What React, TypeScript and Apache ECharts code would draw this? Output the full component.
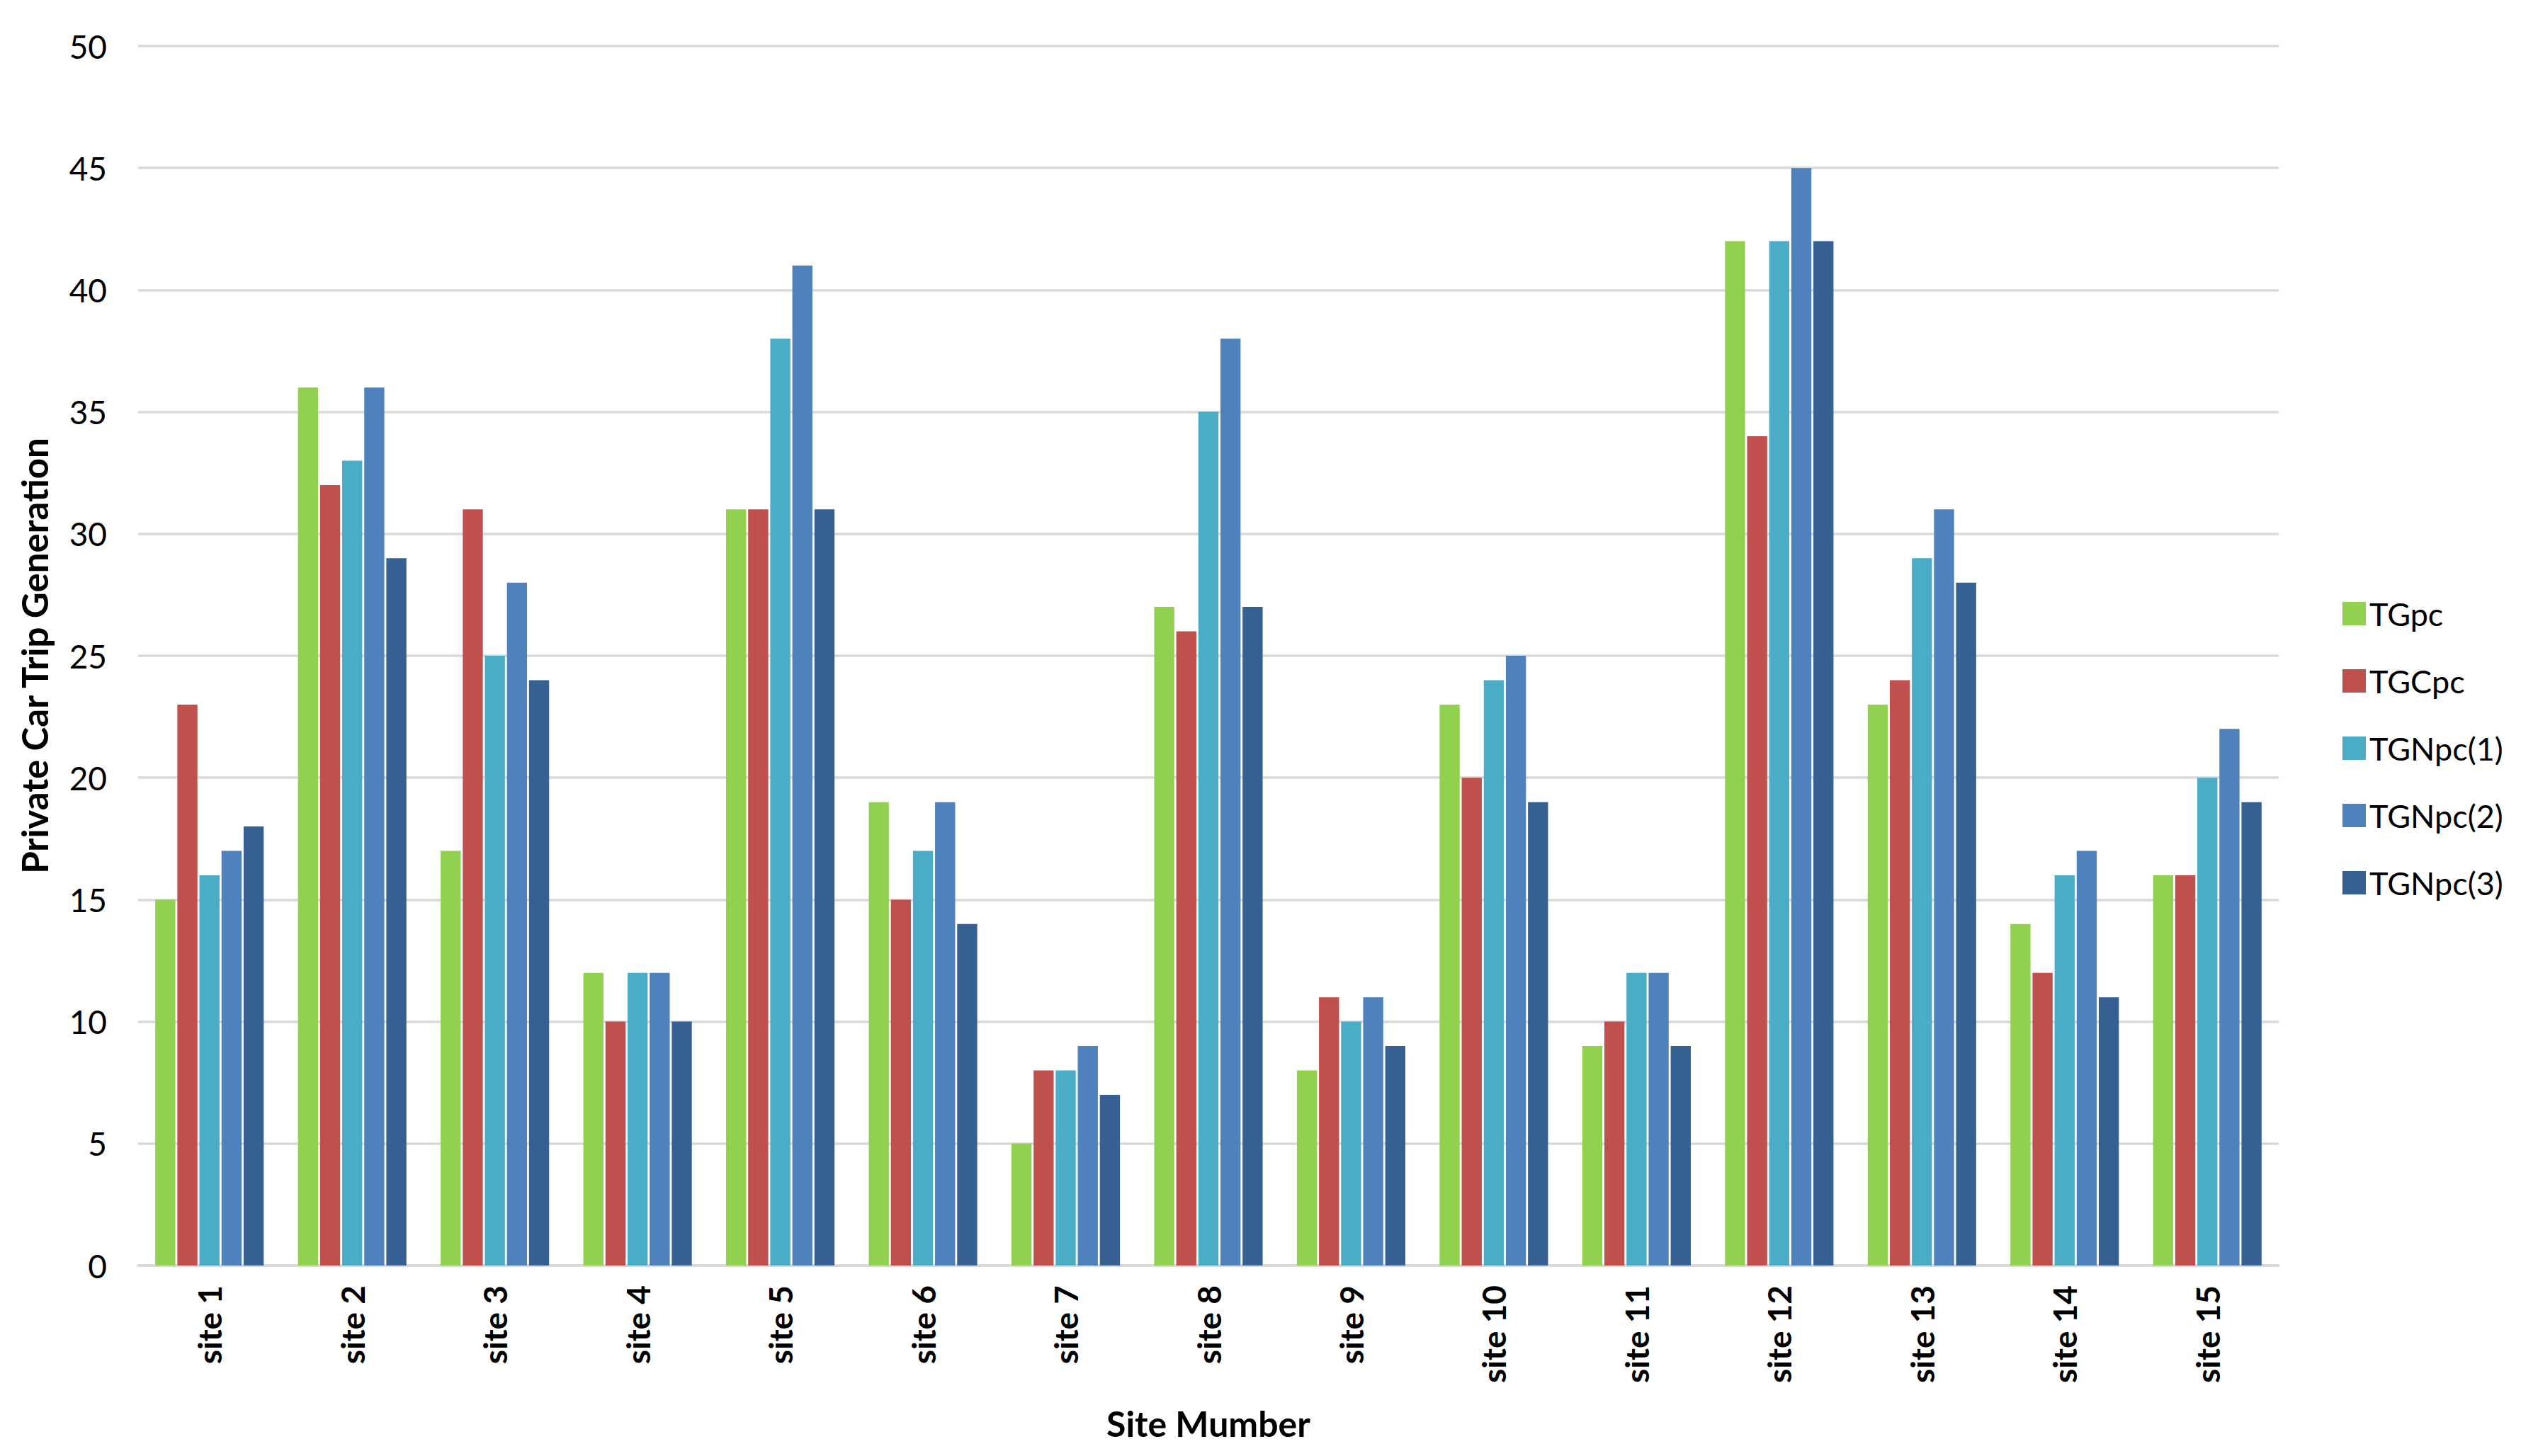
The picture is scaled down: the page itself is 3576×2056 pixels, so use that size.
import React, { useEffect, useRef } from "react";
import * as echarts from "echarts";

const categories = [
  "site 1", "site 2", "site 3", "site 4", "site 5", "site 6", "site 7", "site 8",
  "site 9", "site 10", "site 11", "site 12", "site 13", "site 14", "site 15",
];
const seriesNames = ["TGpc", "TGCpc", "TGNpc(1)", "TGNpc(2)", "TGNpc(3)"];
const tgpc = [15, 36, 17, 12, 31, 19, 5, 27, 8, 23, 9, 42, 23, 14, 16];
const tgcpc = [23, 32, 31, 10, 31, 15, 8, 26, 11, 20, 10, 34, 24, 12, 16];
const tgnpc1 = [16, 33, 25, 12, 38, 17, 8, 35, 10, 24, 12, 42, 29, 16, 20];
const tgnpc2 = [17, 36, 28, 12, 41, 19, 9, 38, 11, 25, 12, 45, 31, 17, 22];
const tgnpc3 = [18, 29, 24, 10, 31, 14, 7, 27, 9, 19, 9, 42, 28, 11, 19];
const colors = ["#92D050", "#C0504D", "#4BACC6", "#4F81BD", "#376092"];

const FONT = "Lato, 'Open Sans', 'Liberation Sans', sans-serif";

export default function App() {
  const ref = useRef<HTMLDivElement>(null);
  useEffect(() => {
    if (!ref.current) return;
    const chart = echarts.init(ref.current, null, { renderer: "svg" });
    const values = [tgpc, tgcpc, tgnpc1, tgnpc2, tgnpc3];
    chart.setOption({
      animation: false,
      backgroundColor: "#ffffff",
      textStyle: { fontFamily: FONT },
      grid: { left: 195, right: 359, top: 65, bottom: 269, containLabel: false },
      legend: {
        orient: "vertical",
        left: 3302,
        top: 839,
        itemWidth: 33,
        itemHeight: 33,
        itemGap: 50,
        icon: "rect",
        textStyle: { fontFamily: FONT, fontSize: 45, color: "#000000" },
        data: seriesNames,
      },
      xAxis: {
        type: "category",
        data: categories,
        name: "Site Mumber",
        nameLocation: "middle",
        nameGap: 198,
        nameTextStyle: { fontFamily: FONT, fontSize: 50, fontWeight: "bold", color: "#000000" },
        axisLine: { show: true, lineStyle: { color: "#D9D9D9", width: 3.5 } },
        axisTick: { show: false },
        axisLabel: {
          rotate: 90,
          margin: 28,
          fontFamily: FONT,
          fontSize: 46,
          fontWeight: "bold",
          color: "#000000",
        },
      },
      yAxis: {
        type: "value",
        min: 0,
        max: 50,
        interval: 5,
        name: "Private Car Trip Generation",
        nameLocation: "middle",
        nameGap: 121,
        nameTextStyle: { fontFamily: FONT, fontSize: 51, fontWeight: "bold", color: "#000000" },
        axisLine: { show: false },
        axisTick: { show: false },
        splitLine: { show: true, lineStyle: { color: "#D9D9D9", width: 3.5 } },
        axisLabel: { margin: 44, fontFamily: FONT, fontSize: 46, color: "#000000" },
      },
      series: seriesNames.map((name, i) => ({
        name,
        type: "bar",
        data: values[i],
        barGap: "10%",
        barCategoryGap: "24%",
        itemStyle: { color: colors[i] },
      })),
    });
    return () => chart.dispose();
  }, []);
  return (
    <div
      ref={ref}
      style={{ position: "absolute", left: 0, top: 0, width: 3576, height: 2056, background: "#fff" }}
    />
  );
}
